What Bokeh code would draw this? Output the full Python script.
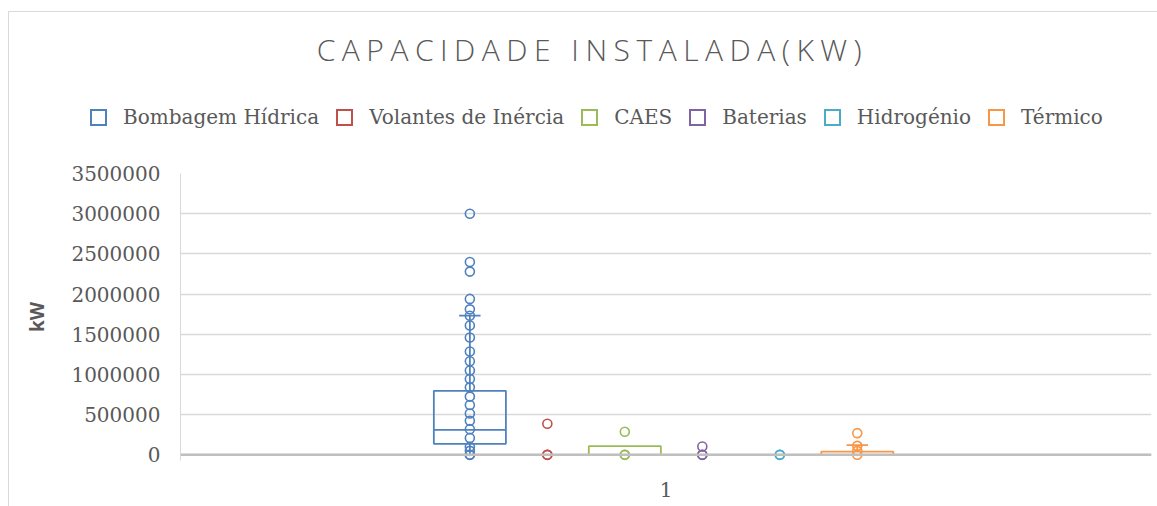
from bokeh.plotting import figure
from bokeh.layouts import column
from bokeh.models import (ColumnDataSource, FactorRange, Range1d, FixedTicker,
                          BasicTickFormatter, Span, Div)
from bokeh.transform import dodge
from bokeh.embed import file_html
from bokeh.resources import INLINE

# ---------------- data ----------------
title_text = "CAPACIDADE INSTALADA(KW)"
categories = ["1"]
series = ["Bombagem Hídrica", "Volantes de Inércia", "CAES", "Baterias", "Hidrogénio", "Térmico"]
colors = ["#4F81BD", "#C0504D", "#9BBB59", "#8064A2", "#4BACC6", "#F79646"]

q1 = [137000, 0, 0, 0, 0, 0]
median = [311000, 0, 0, 0, 0, 0]
q3 = [797000, 0, 108000, 0, 0, 40000]
whisker_low = [0, 0, 0, 0, 0, 0]
whisker_high = [1731000, 0, 108000, 0, 0, 121000]

points_bombagem = [3000000, 2400000, 2280000, 1940000, 1810000, 1730000, 1610000, 1460000,
                   1285000, 1165000, 1050000, 945000, 840000, 725000, 620000, 515000,
                   425000, 320000, 210000, 100000, 50000, 0, 0]
points_volantes = [0, 0, 387000]
points_caes = [0, 0, 287000]
points_baterias = [0, 0, 104000]
points_hidrogenio = [0, 0]
points_termico = [0, 50000, 112000, 270000]
points = [points_bombagem, points_volantes, points_caes, points_baterias,
          points_hidrogenio, points_termico]

y_ticks = [0, 500000, 1000000, 1500000, 2000000, 2500000, 3000000, 3500000]

GRAY = "#595959"
W = 1157
TOP_H = 161

# ---------------- header: title + legend (HTML) ----------------
legend_html = "".join(
    f'<span style="display:inline-flex;align-items:center;margin-right:17px;">'
    f'<span style="display:inline-block;box-sizing:border-box;width:17px;height:17px;'
    f'border:2px solid {c};margin-right:16px;"></span>{name}</span>'
    for name, c in zip(series, colors))
head_html = (
    f'<div style="position:relative;width:{W}px;height:{TOP_H}px;">'
    f'<div style="position:absolute;left:6px;top:30px;width:1173px;text-align:center;'
    f'font-family:\'Open Sans\';font-weight:300;font-size:30px;line-height:40px;'
    f'letter-spacing:6.5px;color:{GRAY};white-space:nowrap;">{title_text}</div>'
    f'<div style="position:absolute;left:90px;top:105px;height:24px;display:flex;'
    f'align-items:center;font-family:\'DejaVu Serif\';font-size:20px;color:{GRAY};'
    f'white-space:nowrap;">{legend_html}</div>'
    f'</div>')
head = Div(text=head_html, width=W, height=TOP_H, margin=(0, 0, 0, 0))

# ---------------- main chart ----------------
p = figure(x_range=FactorRange(factors=categories, range_padding=0),
           y_range=Range1d(-70000, 3500000),
           width=W, height=506 - TOP_H,
           min_border_left=180, min_border_right=6, min_border_top=12, min_border_bottom=46,
           output_backend="svg", toolbar_location=None)
p.border_fill_color = None
p.background_fill_color = None
p.outline_line_color = None
p.xgrid.grid_line_color = None
p.ygrid.grid_line_color = "#d9d9d9"
p.ygrid.grid_line_width = 1.5

p.yaxis.ticker = FixedTicker(ticks=y_ticks)
p.yaxis.formatter = BasicTickFormatter(use_scientific=False)
p.yaxis.major_label_text_font = "DejaVu Serif"
p.yaxis.major_label_text_font_size = "20px"
p.yaxis.major_label_text_color = GRAY
p.yaxis.major_tick_line_color = None
p.yaxis.minor_tick_line_color = None
p.yaxis.major_label_standoff = 14
p.yaxis.axis_line_color = "#d9d9d9"
p.yaxis.axis_line_width = 1
p.yaxis.axis_label = "kW"
p.yaxis.axis_label_text_font = "Open Sans"
p.yaxis.axis_label_text_font_style = "bold"
p.yaxis.axis_label_text_font_size = "19px"
p.yaxis.axis_label_text_color = GRAY
p.yaxis.axis_label_standoff = 18

p.xaxis.axis_line_color = None
p.xaxis.major_tick_line_color = None
p.xaxis.minor_tick_line_color = None
p.xaxis.major_label_text_font = "DejaVu Serif"
p.xaxis.major_label_text_font_size = "20px"
p.xaxis.major_label_text_color = GRAY
p.xaxis.major_label_standoff = 15

n = len(series)
step = 0.0798
shift = -0.0025
box_w = 0.0742
cap_w = 0.022
for i in range(n):
    off = (i - (n - 1) / 2) * step + shift
    c = colors[i]
    src = ColumnDataSource(dict(cat=categories, q1=[q1[i]], q3=[q3[i]], med=[median[i]],
                                lo=[whisker_low[i]], hi=[whisker_high[i]]))
    p.segment(x0=dodge("cat", off, range=p.x_range), x1=dodge("cat", off, range=p.x_range),
              y0="q3", y1="hi", source=src, line_color=c, line_width=1.8)
    p.segment(x0=dodge("cat", off, range=p.x_range), x1=dodge("cat", off, range=p.x_range),
              y0="lo", y1="q1", source=src, line_color=c, line_width=1.8)
    if whisker_high[i] > q3[i]:
        p.segment(x0=dodge("cat", off - cap_w / 2, range=p.x_range),
                  x1=dodge("cat", off + cap_w / 2, range=p.x_range),
                  y0="hi", y1="hi", source=src, line_color=c, line_width=1.8)
    p.vbar(x=dodge("cat", off, range=p.x_range), width=box_w, bottom="q1", top="q3",
           source=src, fill_color=None, line_color=c, line_width=1.8)
    p.segment(x0=dodge("cat", off - box_w / 2, range=p.x_range),
              x1=dodge("cat", off + box_w / 2, range=p.x_range),
              y0="med", y1="med", source=src, line_color=c, line_width=1.8)
    psrc = ColumnDataSource(dict(cat=categories * len(points[i]), y=points[i]))
    p.scatter(x=dodge("cat", off, range=p.x_range), y="y", source=psrc, marker="circle",
              size=9, fill_color=None, line_color=c, line_width=1.6)

p.add_layout(Span(location=0, dimension="width", line_color="#bfbfbf", line_width=2.5))

layout = column(head, p, spacing=0, styles={
    "background": "linear-gradient(#d9d9d9,#d9d9d9) 8px 11px / 1px 100% no-repeat, "
                  "linear-gradient(#d9d9d9,#d9d9d9) 8px 11px / 100% 1px no-repeat, white"})
open("out.html", "w").write(file_html(layout, INLINE))
